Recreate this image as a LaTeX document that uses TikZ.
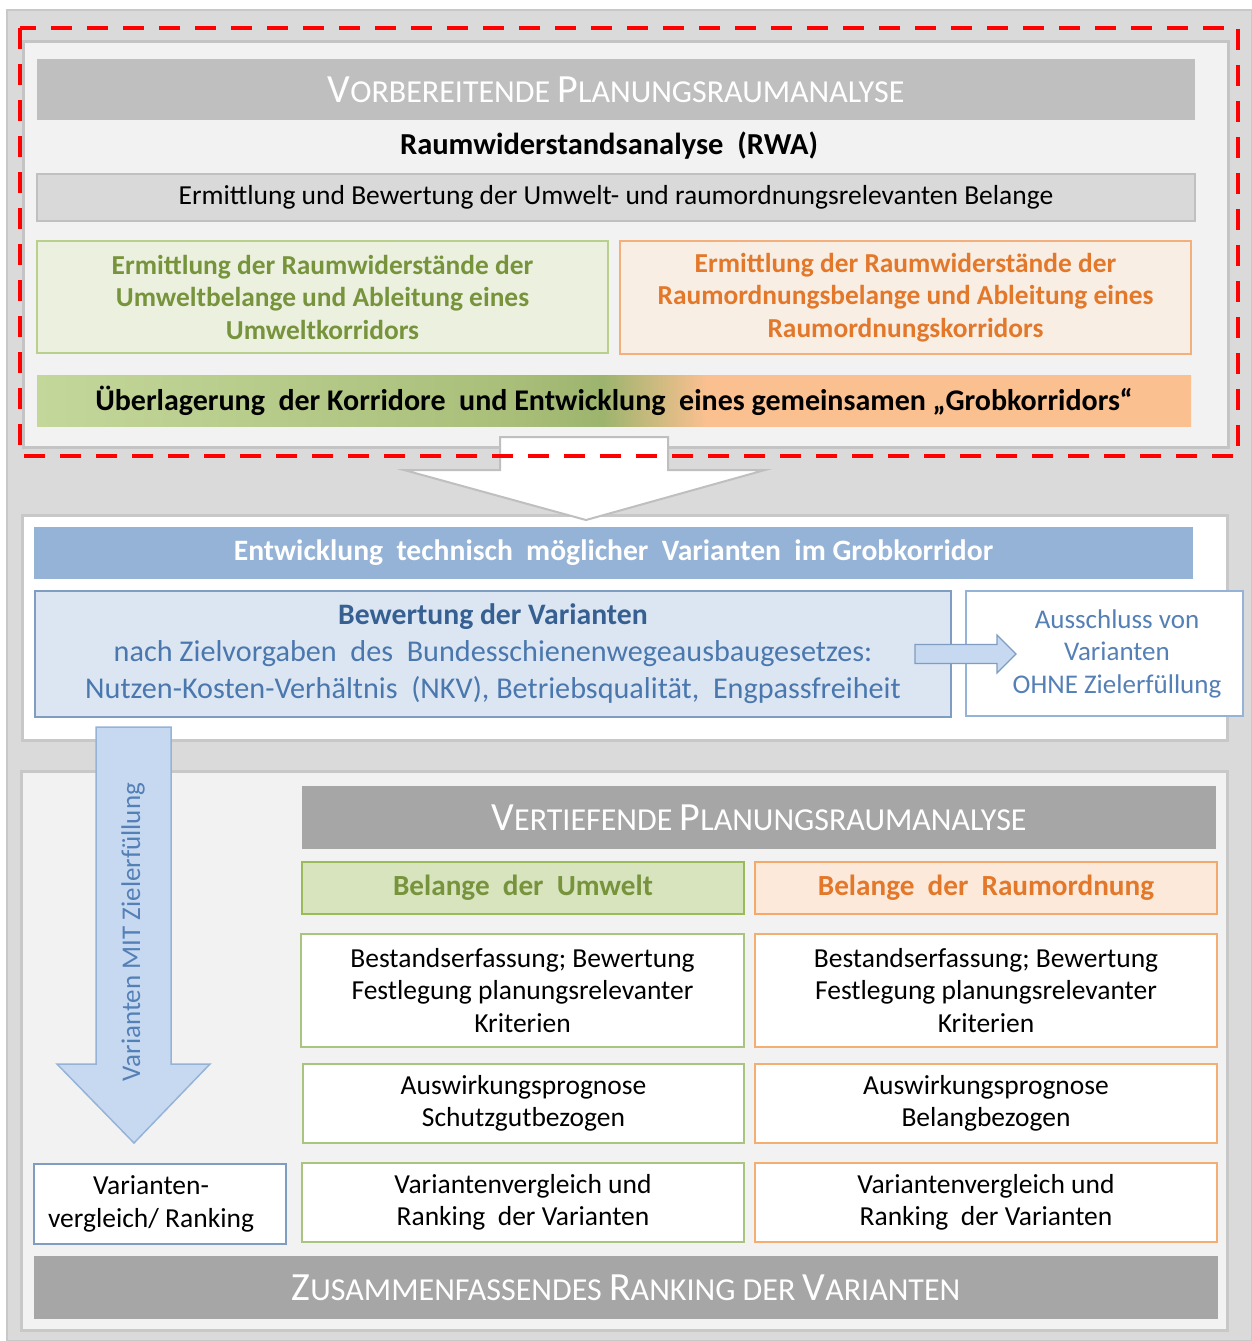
\documentclass[tikz,border=0pt]{standalone}
\usepackage{fontspec}
\setmainfont{Carlito}
\definecolor{outerbg}{HTML}{DADADA}
\definecolor{outerbd}{HTML}{C8C8C8}
\definecolor{panelbg}{HTML}{F2F2F2}
\definecolor{panelbd}{HTML}{C4C4C4}
\definecolor{titleA}{HTML}{BFBFBF}
\definecolor{titleB}{HTML}{A6A6A6}
\definecolor{ermfill}{HTML}{D9D9D9}
\definecolor{ermbd}{HTML}{C0C0C0}
\definecolor{grfill}{HTML}{EBF1DE}
\definecolor{grbd}{HTML}{B9CF8C}
\definecolor{grtext}{HTML}{77933C}
\definecolor{orfill}{HTML}{F8EEE4}
\definecolor{orbd}{HTML}{F3B07C}
\definecolor{ortext}{HTML}{E3782A}
\definecolor{gA}{HTML}{C4D79B}
\definecolor{gB}{HTML}{A8BE78}
\definecolor{gC}{HTML}{9DB46E}
\definecolor{oA}{HTML}{FAC090}
\definecolor{bluebar}{HTML}{95B3D7}
\definecolor{bluebox}{HTML}{DCE6F2}
\definecolor{bluebd}{HTML}{7F9DC0}
\definecolor{bluetext}{HTML}{366092}
\definecolor{bluetextB}{HTML}{4A78AE}
\definecolor{bluetextC}{HTML}{5580B6}
\definecolor{arrowblue}{HTML}{C6D9F1}
\definecolor{belUfill}{HTML}{D7E4BD}
\definecolor{belUbd}{HTML}{9BBB59}
\definecolor{belRfill}{HTML}{FDE9D9}
\definecolor{belRbd}{HTML}{F4A96A}
\definecolor{rowGbd}{HTML}{A9C47F}
\definecolor{rowObd}{HTML}{F4AE72}
\definecolor{redline}{HTML}{FF0000}
\definecolor{arrowbd}{HTML}{BFBFBF}
\pgfdeclarehorizontalshading{grobshade}{100bp}{color(0bp)=(gA); color(25bp)=(gA); color(46bp)=(gB); color(49.5bp)=(gC); color(54bp)=(oA); color(75bp)=(oA); color(100bp)=(oA)}
\newcommand{\Bg}[1]{{\fontsize{40}{46}\selectfont #1}}
\newcommand{\Sm}[1]{{\fontsize{32}{37}\selectfont #1}}
\begin{document}
\begin{tikzpicture}[x=1pt,y=-1pt,
  every node/.style={inner sep=0pt, outer sep=0pt},
  panel/.style={draw=panelbd, line width=3pt, rectangle},
  box/.style={draw, rectangle, line width=1.5pt, align=center},
  bodytext/.style={font=\fontsize{27.5}{32.5}\selectfont, align=center},
  boldtext/.style={font=\bfseries\fontsize{27.4}{32.5}\selectfont, align=center},
  sctitle/.style={rectangle, text=white, font=\fontsize{32}{37}\selectfont}]
\useasboundingbox (0,0) rectangle (1252,1341);
% outer background
\node[rectangle, fill=outerbg, draw=outerbd, line width=1.5pt, minimum width=1245pt, minimum height=1331pt] (outer) at (629.5,675.5) {};
% ---------- top panel ----------
\node[panel, fill=panelbg, minimum width=1205pt, minimum height=406pt] (top) at (625.5,244) {};
\node[sctitle, fill=titleA, minimum width=1158pt, minimum height=61pt] (t1) at (616,89.5) {\Bg{V}\Sm{ORBEREITENDE} \Bg{P}\Sm{LANUNGSRAUMANALYSE}};
\node[font=\bfseries\fontsize{30.5}{36}\selectfont] (rwa) at (609,146) {Raumwiderstandsanalyse\ \ (RWA)};
\node[box, fill=ermfill, draw=ermbd, minimum width=1158pt, minimum height=47pt, bodytext] (erm) at (616,197.5) {Ermittlung und Bewertung der Umwelt- und raumordnungsrelevanten Belange};
\node[box, fill=grfill, draw=grbd, minimum width=571pt, minimum height=112pt, boldtext, text=grtext] (gk) at (322.5,297) {Ermittlung der Raumwiderstände der\\Umweltbelange und Ableitung eines\\Umweltkorridors};
\node[box, fill=orfill, draw=orbd, minimum width=571pt, minimum height=113pt, boldtext, text=ortext] (ok) at (905.5,297.5) {Ermittlung der Raumwiderstände der\\Raumordnungsbelange und Ableitung eines\\Raumordnungskorridors};
\node[rectangle, shade, shading=grobshade, minimum width=1154pt, minimum height=51pt] (grob) at (614,400.5) {};
\node[font=\bfseries\fontsize{30}{36}\selectfont] (grobT) at (grob.center) {Überlagerung\ \ der Korridore\ \ und Entwicklung\ \ eines gemeinsamen „Grobkorridors“};
% ---------- middle panel ----------
\node[panel, fill=white, draw=outerbd, minimum width=1205pt, minimum height=225pt] (mid) at (624.5,627.5) {};
\node[rectangle, fill=bluebar, minimum width=1159pt, minimum height=52pt, text=white, font=\bfseries\fontsize{29.6}{35}\selectfont] (bb) at (613.5,553) {Entwicklung\ \ technisch\ \ möglicher\ \ Varianten\ \ im Grobkorridor};
\node[box, fill=bluebox, draw=bluebd, minimum width=916pt, minimum height=126pt, font=\fontsize{30.2}{37}\selectfont, text=bluetextB] (bew) at (493,654) {{\bfseries\fontsize{29.7}{37}\selectfont\color{bluetext}Bewertung der Varianten}\\nach Zielvorgaben\ \ des\ \ Bundesschienenwegeausbaugesetzes:\\Nutzen-Kosten-Verhältnis\ \ (NKV), Betriebsqualität,\ \ Engpassfreiheit};
\node[box, fill=white, draw=bluebar, minimum width=277pt, minimum height=125pt] (aus) at (1104.5,653.5) {};
\node[align=center, font=\fontsize{27}{32.5}\selectfont, text=bluetextC] (ausT) at ([xshift=12.5pt]aus.center) {Ausschluss von\\Varianten\\OHNE Zielerfüllung};
% small block arrow
\draw[fill=arrowblue, draw=bluebd, line width=1.2pt] (915,644.5) -- (997,644.5) -- (997,635) -- (1016,654) -- (997,673) -- (997,663.5) -- (915,663.5) -- cycle;
% big white arrow
\draw[fill=white, draw=arrowbd, line width=2pt] (500,437) -- (668,437) -- (668,470) -- (765,470) -- (586,520) -- (404,470) -- (500,470) -- cycle;
% red dashed frame
\draw[redline, line width=4.5pt, dash pattern=on 21pt off 15pt] (20,28) rectangle (1238,456);
% ---------- bottom panel ----------
\node[panel, fill=panelbg, draw=outerbd, minimum width=1206pt, minimum height=559pt] (bot) at (624,1050.5) {};
\node[sctitle, fill=titleB, minimum width=914pt, minimum height=63pt] (t2) at (759,817.5) {\Bg{V}\Sm{ERTIEFENDE} \Bg{P}\Sm{LANUNGSRAUMANALYSE}};
\node[box, fill=belUfill, draw=belUbd, minimum width=442pt, minimum height=52pt, text=grtext, font=\bfseries\fontsize{29.2}{34}\selectfont] (belU) at (523,888) {Belange\ \ der\ \ Umwelt};
\node[box, fill=belRfill, draw=belRbd, minimum width=462pt, minimum height=52pt, text=ortext, font=\bfseries\fontsize{29.2}{34}\selectfont] (belR) at (986,888) {Belange\ \ der\ \ Raumordnung};
\node[box, fill=white, draw=rowGbd, minimum width=443pt, minimum height=113pt, bodytext] (r1L) at (522.5,990.5) {Bestandserfassung; Bewertung\\Festlegung planungsrelevanter\\Kriterien};
\node[box, fill=white, draw=rowObd, minimum width=462pt, minimum height=113pt, bodytext] (r1R) at (986,990.5) {Bestandserfassung; Bewertung\\Festlegung planungsrelevanter\\Kriterien};
\node[box, fill=white, draw=rowGbd, minimum width=441pt, minimum height=79pt, bodytext] (r2L) at (523.5,1103.5) {Auswirkungsprognose\\Schutzgutbezogen};
\node[box, fill=white, draw=rowObd, minimum width=462pt, minimum height=79pt, bodytext] (r2R) at (986,1103.5) {Auswirkungsprognose\\Belangbezogen};
\node[box, fill=white, draw=rowGbd, minimum width=442pt, minimum height=79pt, bodytext] (r3L) at (523,1202.5) {Variantenvergleich und\\Ranking\ \ der Varianten};
\node[box, fill=white, draw=rowObd, minimum width=462pt, minimum height=79pt, bodytext] (r3R) at (986,1202.5) {Variantenvergleich und\\Ranking\ \ der Varianten};
\node[box, fill=white, draw=bluebd, minimum width=252pt, minimum height=80pt] (lb) at (160,1204) {};
\node[bodytext] (lbT) at ([xshift=-9pt]lb.center) {Varianten-\\vergleich/ Ranking};
\node[sctitle, fill=titleB, minimum width=1184pt, minimum height=63pt] (zr) at (626,1287.5) {\Bg{Z}\Sm{USAMMENFASSENDES} \Bg{R}\Sm{ANKING} \Sm{DER} \Bg{V}\Sm{ARIANTEN}};
% big down arrow
\draw[fill=arrowblue, draw=bluebar, line width=1.5pt] (96,727) -- (171,727) -- (171,1064) -- (210,1064) -- (134,1143) -- (57,1064) -- (96,1064) -- cycle;
\node[rotate=90, text=bluetextC, font=\fontsize{27}{32}\selectfont] (mit) at (133,932) {Varianten MIT Zielerfüllung};
\end{tikzpicture}
\end{document}
